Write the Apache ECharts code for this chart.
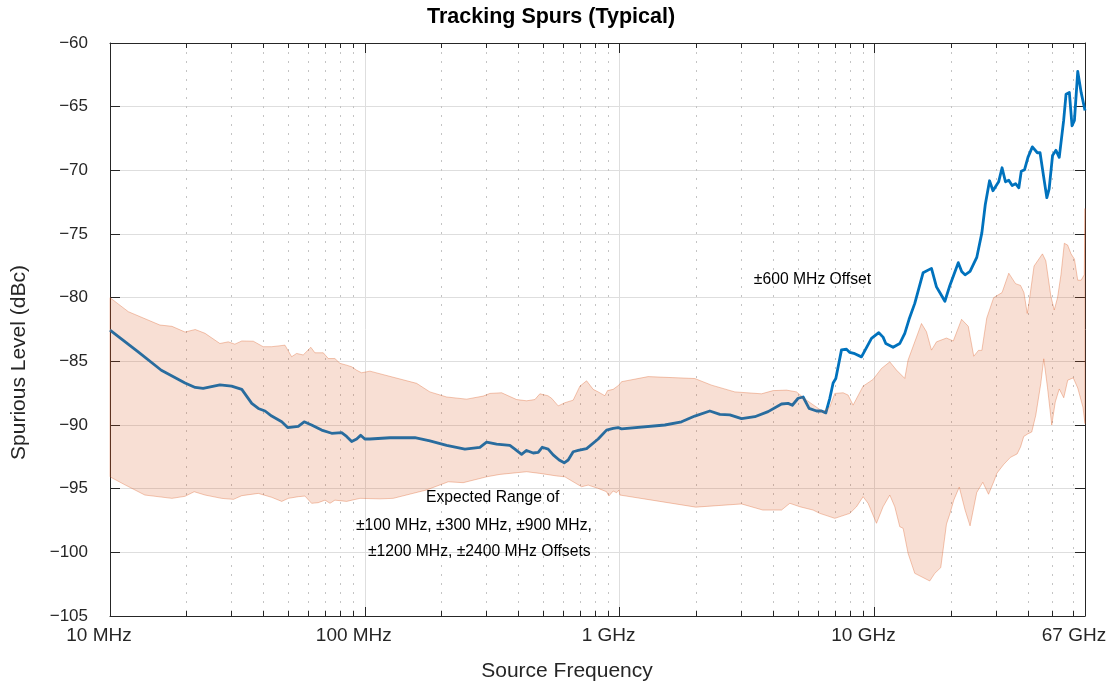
<!DOCTYPE html>
<html>
<head>
<meta charset="utf-8">
<title>Tracking Spurs (Typical)</title>
<script src="https://cdn.jsdelivr.net/npm/echarts@6/dist/echarts.min.js"></script>
<style>
  html, body { margin: 0; padding: 0; background: #ffffff; }
  #chart { width: 1113px; height: 688px; }
</style>
</head>
<body>
<div id="chart"></div>
<script>
// ±600 MHz offset trace: [source frequency (MHz), spurious level (dBc)]
const spur600 = [
  [10.0, -82.55], [12.9, -84.25], [15.9, -85.7], [19.7, -86.7], [21.6, -87.05], [23.2, -87.13],
  [27.0, -86.85], [30.0, -86.95], [32.9, -87.2], [36.0, -88.3], [38.2, -88.7], [40.6, -88.9],
  [43.1, -89.3], [47.2, -89.75], [49.8, -90.2], [54.8, -90.1], [57.8, -89.75], [61.8, -90.0],
  [67.7, -90.4], [74.1, -90.65], [81.1, -90.6], [84.8, -90.9], [88.8, -91.3], [92.9, -91.1],
  [96.3, -90.8], [100, -91.1], [104.7, -91.1], [125.5, -91.0], [157.2, -91.0], [180.0, -91.25],
  [209.4, -91.6], [247.0, -91.9], [282.8, -91.75], [300.5, -91.35], [328.9, -91.5], [370.8, -91.6],
  [388.0, -91.9], [412.2, -92.3], [431.2, -92.0], [457.8, -92.2], [479.0, -92.15], [496.6, -91.75],
  [524.2, -91.9], [548.4, -92.35], [578.9, -92.75], [605.8, -92.97], [628.1, -92.75], [657.1, -92.1],
  [687.5, -92.0], [741.7, -91.85], [823.5, -91.1], [888.2, -90.4], [943.0, -90.27], [986.5, -90.2],
  [1017, -90.3], [1504, -90.0], [1749, -89.75], [1972, -89.3], [2258, -88.9], [2473, -89.17],
  [2706, -89.2], [3008, -89.5], [3392, -89.35], [3824, -88.95], [4317, -88.35], [4581, -88.3],
  [4759, -88.45], [5016, -87.9], [5247, -87.8], [5538, -88.7], [5923, -88.9], [6197, -88.9],
  [6442, -89.05], [6678, -87.9], [6881, -86.7], [7051, -86.35], [7422, -84.1], [7765, -84.05],
  [8001, -84.3], [8370, -84.4], [8892, -84.65], [9732, -83.2], [10396, -82.75], [10807, -83.1],
  [11074, -83.6], [11830, -83.9], [12568, -83.6], [13148, -82.8], [13667, -81.7], [14391, -80.45],
  [15510, -78.05], [16734, -77.7], [17507, -79.15], [18040, -79.6], [18891, -80.28], [19762, -79.04],
  [21320, -77.25], [21988, -77.94], [22674, -78.21], [23714, -77.94], [25194, -76.84], [26381, -74.91],
  [27206, -72.7], [28281, -70.82], [29168, -71.6], [30704, -70.9], [31667, -69.8], [32654, -70.9],
  [33645, -70.77], [34691, -71.19], [35776, -71.05], [36856, -71.37], [37662, -70.08], [38806, -69.95],
  [40013, -68.98], [41640, -68.16], [43562, -68.62], [44638, -68.62], [46323, -70.77], [47467, -72.15],
  [48461, -71.46], [49968, -68.84], [51533, -68.43], [53089, -68.98], [55248, -66.08], [56458, -64.02],
  [58160, -63.88], [59596, -66.5], [60900, -66.08], [62750, -62.23], [64700, -63.88], [67000, -65.3]
];

// Expected range of the other offsets, upper edge: [MHz, dBc]
const bandUpper = [
  [10.0, -80.0], [11.8, -81.1], [15.7, -82.15], [17.5, -82.25], [19.7, -82.7], [21.6, -82.5],
  [23.6, -82.8], [27.0, -83.6], [29.1, -83.47], [30.9, -83.65], [32.9, -83.4], [36.5, -83.42],
  [39.9, -83.85], [43.1, -83.85], [48.6, -83.73], [51.6, -84.64], [54.0, -84.38], [57.3, -84.5],
  [61.4, -83.9], [63.7, -84.33], [68.7, -84.33], [71.9, -84.78], [76.3, -84.78], [79.9, -85.16],
  [84.8, -85.3], [88.8, -85.43], [92.9, -85.7], [97.1, -85.9], [104.7, -85.77], [159.7, -86.73],
  [180.0, -87.4], [209.4, -87.8], [250.8, -87.97], [291.4, -87.73], [309.6, -87.52], [344.1, -87.47],
  [394.0, -88.0], [431.2, -88.1], [464.8, -88.0], [486.3, -87.55], [522.8, -87.7], [540.6, -87.9],
  [573.9, -88.5], [609.5, -88.25], [657.1, -88.05], [698.2, -86.95], [741.7, -86.53], [787.0, -87.2],
  [823.5, -87.4], [874.8, -87.7], [896.4, -87.3], [943.0, -87.2], [992.9, -86.87], [1017, -86.6],
  [1293, -86.2], [1972, -86.35], [2294, -86.87], [2831, -87.4], [3603, -87.55], [4000, -87.3],
  [4516, -87.26], [4943, -87.4], [5410, -88.05], [6285, -88.96], [6678, -88.57], [6988, -87.52],
  [7533, -87.47], [7878, -87.65], [8241, -88.44], [9021, -86.95], [9874, -86.42], [10652, -85.56],
  [11482, -85.04], [12200, -85.69], [13148, -86.34], [13545, -84.9], [15291, -82.03], [15996, -82.68],
  [16734, -84.12], [17507, -83.47], [19163, -83.17], [20380, -83.4], [21968, -81.7], [23335, -82.25],
  [24521, -84.6], [25586, -84.14], [26381, -84.14], [27579, -81.6], [29350, -80.0], [31667, -79.6],
  [33645, -78.08], [35776, -78.9], [37428, -79.04], [38593, -79.6], [39757, -81.24], [40376, -80.42],
  [42279, -77.52], [45607, -76.56], [47025, -77.11], [49204, -79.87], [50744, -80.97], [52276, -80.0],
  [53915, -78.21], [55590, -75.73], [57266, -75.87], [59047, -76.56], [60900, -76.97], [62750, -78.63],
  [64700, -78.63], [66540, -78.21], [67000, -73.0]
];

// Expected range, lower edge: [MHz, dBc]
const bandLower = [
  [10.0, -94.07], [11.45, -94.7], [13.7, -95.5], [17.5, -95.76], [19.7, -95.6], [21.4, -95.24],
  [23.6, -95.5], [27.4, -95.76], [30.5, -95.84], [32.9, -95.55], [38.2, -95.37], [43.1, -95.68],
  [47.2, -96.0], [50.1, -95.76], [54.8, -95.63], [58.2, -95.58], [61.8, -96.15], [65.6, -96.1],
  [69.8, -95.9], [73.0, -96.15], [76.3, -95.9], [84.8, -96.0], [95.7, -95.76], [114.6, -95.8],
  [129.2, -95.76], [174.7, -95.1], [212.5, -94.46], [243.2, -94.53], [300.5, -94.07], [338.8, -93.88],
  [431.2, -93.67], [486.3, -93.8], [565.6, -94.0], [609.5, -94.07], [657.1, -94.46], [708.9, -94.85],
  [752.4, -94.72], [823.5, -94.98], [888.2, -95.24], [907.0, -95.58], [943.0, -95.18], [972.3, -95.32],
  [992.9, -95.11], [1002, -95.5], [1438, -96.0], [1990, -96.45], [3008, -96.2], [3646, -96.68],
  [4317, -96.68], [4653, -96.15], [5093, -96.42], [5742, -96.68], [6101, -96.94], [6988, -97.33],
  [8001, -96.94], [8500, -96.42], [9021, -95.63], [9438, -96.15], [10181, -97.72], [10807, -96.42],
  [11482, -95.5], [12011, -96.42], [12568, -97.99], [12950, -98.11], [13545, -100.08], [14391, -101.65],
  [16478, -102.25], [17240, -101.65], [18199, -101.2], [19163, -97.78], [19744, -97.0], [20471, -95.9],
  [21511, -94.88], [22674, -96.68], [23714, -97.92], [25194, -95.3], [26601, -94.5], [28028, -95.44],
  [29350, -94.47], [30236, -93.78], [32160, -93.09], [34162, -92.54], [36292, -92.27], [37428, -91.72],
  [38524, -90.9], [39940, -90.7], [41410, -90.55], [42935, -89.24], [44920, -86.76], [46158, -84.8],
  [47719, -87.03], [49618, -90.0], [51209, -88.2], [53089, -87.17], [55299, -87.86], [57320, -86.48],
  [60250, -86.3], [62750, -87.1], [65766, -88.6], [67000, -89.9]
];

// Frequency axis ticks (MHz) and their labels
const xTickValues = [10, 100, 1000, 10000, 67000];
const xTickLabels = ['10 MHz', '100 MHz', '1 GHz', '10 GHz', '67 GHz'];
const minorMultipliers = [2, 3, 4, 5, 6, 7, 8, 9];
const decadesMHz = [10, 100, 1000, 10000];

// Text notes placed in data space: [MHz, dBc]
const notes = [
  { text: '\u00b1600 MHz Offset', f: 3362, level: -78.62 },
  { text: 'Expected Range of', f: 173.7, level: -95.71 },
  { text: '\u00b1100 MHz, \u00b1300 MHz, \u00b1900 MHz,', f: 92.3, level: -97.87 },
  { text: '\u00b11200 MHz, \u00b12400 MHz Offsets', f: 102.8, level: -99.96 }
];

const FONT = '"Liberation Sans", Arial, Helvetica, sans-serif';
const INK = '#262626';

// Frequencies are plotted as log10(Hz) on a linear value axis
const toX = f => Math.log10(f * 1e6);
const X_MIN = toX(xTickValues[0]);
const X_MAX = toX(xTickValues[xTickValues.length - 1]);
const majorX = xTickValues.map(toX);
const minorX = [];
decadesMHz.forEach(d => minorMultipliers.forEach(m => {
  const v = toX(d * m);
  if (v < X_MAX) minorX.push(v);
}));

const xLabel = v => {
  const i = majorX.findIndex(m => Math.abs(m - v) < 1e-6);
  return i >= 0 ? xTickLabels[i] : '';
};
const yLabel = v => (v < 0 ? '\u2212' : '') + Math.abs(v);

const hidden = { show: false };
const baseX = {
  type: 'value', min: X_MIN, max: X_MAX, gridIndex: 0,
  axisLine: { onZero: false, lineStyle: { color: INK, width: 1 } }
};

const chart = echarts.init(document.getElementById('chart'), null, { renderer: 'canvas' });

chart.setOption({
  animation: false,
  backgroundColor: '#ffffff',
  grid: { left: 110, right: 28, top: 43, bottom: 72, containLabel: false },
  xAxis: [
    Object.assign({}, baseX, {
      position: 'bottom',
      axisTick: { show: true, inside: true, length: 9, customValues: majorX, lineStyle: { color: INK } },
      axisLabel: {
        show: true, customValues: majorX, formatter: xLabel, margin: 20,
        verticalAlign: 'middle', padding: [0, 22, 0, 0],
        fontFamily: FONT, fontSize: 19, color: INK, hideOverlap: false,
        showMinLabel: true, showMaxLabel: true
      },
      splitLine: { show: true, lineStyle: { color: '#dedede', width: 1 } }
    }),
    Object.assign({}, baseX, {
      position: 'bottom',
      axisLine: { show: false, onZero: false },
      axisTick: { show: true, inside: true, length: 5, customValues: minorX, lineStyle: { color: INK } },
      axisLabel: hidden,
      splitLine: { show: true, lineStyle: { color: '#c4c4c4', width: 1, type: [2, 7] } }
    }),
    Object.assign({}, baseX, {
      position: 'top',
      axisTick: { show: true, inside: true, length: 10, customValues: majorX, lineStyle: { color: INK } },
      axisLabel: hidden,
      splitLine: hidden
    }),
    Object.assign({}, baseX, {
      position: 'top',
      axisLine: { show: false, onZero: false },
      axisTick: { show: true, inside: true, length: 5, customValues: minorX, lineStyle: { color: INK } },
      axisLabel: hidden,
      splitLine: hidden
    })
  ],
  yAxis: [
    {
      type: 'value', position: 'left', min: -105, max: -60, interval: 5,
      axisLine: { show: true, onZero: false, lineStyle: { color: INK, width: 1 } },
      axisTick: { show: true, inside: true, length: 10, lineStyle: { color: INK } },
      axisLabel: {
        formatter: yLabel, margin: 22, padding: [0, 0, 11, 0],
        fontFamily: FONT, fontSize: 17, color: INK
      },
      splitLine: { show: true, lineStyle: { color: '#dedede', width: 1 } }
    },
    {
      type: 'value', position: 'right', min: -105, max: -60, interval: 5,
      axisLine: { show: true, onZero: false, lineStyle: { color: INK, width: 1 } },
      axisTick: { show: true, inside: true, length: 10, lineStyle: { color: INK } },
      axisLabel: hidden,
      splitLine: hidden
    }
  ],
  series: [
    {
      name: '\u00b1600 MHz Offset',
      type: 'line', xAxisIndex: 0, yAxisIndex: 0, z: 2,
      data: spur600.map(p => [toX(p[0]), p[1]]),
      showSymbol: false, symbol: 'none', smooth: false, clip: true,
      lineStyle: { color: '#0072BD', width: 2.8, join: 'round' }
    },
    {
      name: 'Expected Range',
      type: 'custom', xAxisIndex: 0, yAxisIndex: 0, z: 3, silent: true,
      data: [[X_MIN, -90]],
      renderItem: (params, api) => {
        const top = bandUpper.map(p => api.coord([toX(p[0]), p[1]]));
        const bottom = bandLower.slice().reverse().map(p => api.coord([toX(p[0]), p[1]]));
        return {
          type: 'polygon',
          shape: { points: top.concat(bottom) },
          style: {
            fill: 'rgba(217,83,25,0.19)',
            stroke: 'rgba(217,83,25,0.32)',
            lineWidth: 1
          }
        };
      }
    }
  ]
});

// Title, axis names and in-plot notes
const graphics = [
  {
    type: 'text', x: 427, y: 17.5, silent: true,
    style: { text: 'Tracking Spurs (Typical)', font: 'bold 21.5px ' + FONT, fill: '#000000', align: 'left', verticalAlign: 'middle' }
  },
  {
    type: 'text', x: 567, y: 671.5, silent: true,
    style: { text: 'Source Frequency', font: '21px ' + FONT, fill: INK, align: 'center', verticalAlign: 'middle' }
  },
  {
    type: 'text', x: 19, y: 362.5, rotation: Math.PI / 2, silent: true,
    style: { text: 'Spurious Level (dBc)', font: '21px ' + FONT, fill: INK, align: 'center', verticalAlign: 'middle' }
  }
];
notes.forEach(n => {
  const pt = chart.convertToPixel({ xAxisIndex: 0, yAxisIndex: 0 }, [toX(n.f), n.level]);
  graphics.push({
    type: 'text', x: pt[0], y: pt[1], silent: true, z: 10,
    style: { text: n.text, font: '15.7px ' + FONT, fill: '#000000', align: 'left', verticalAlign: 'middle' }
  });
});
chart.setOption({ graphic: graphics });
</script>
</body>
</html>
